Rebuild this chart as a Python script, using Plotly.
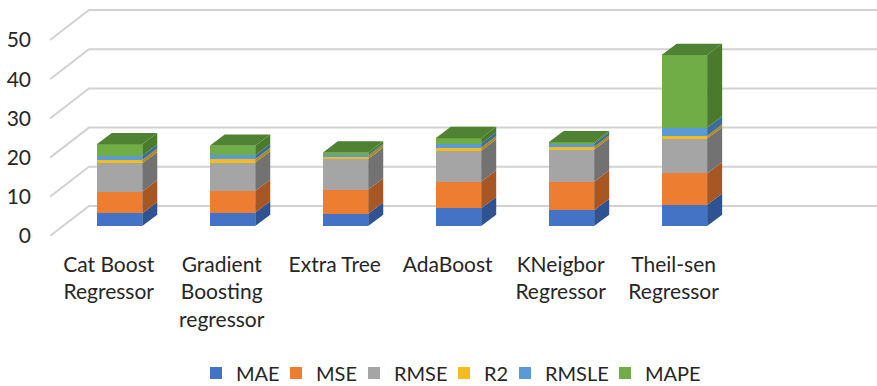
import plotly.graph_objects as go

categories = ["Cat Boost<br>Regressor", "Gradient<br>Boosting<br>regressor", "Extra Tree",
              "AdaBoost", "KNeigbor<br>Regressor", "Theil-sen<br>Regressor"]
series_names = ["MAE", "MSE", "RMSE", "R2", "RMSLE", "MAPE"]
mae = [3.2, 3.4, 3.1, 4.5, 4.0, 5.4]
mse = [5.6, 5.5, 6.2, 6.8, 7.3, 8.0]
rmse = [7.2, 7.3, 7.8, 7.9, 8.2, 8.9]
r2 = [0.85, 0.85, 0.7, 0.8, 0.7, 0.7]
rmsle = [1.1, 1.0, 0.3, 1.0, 0.8, 2.1]
mape = [2.9, 2.4, 0.6, 1.4, 0.35, 18.5]
y_ticks = [0, 10, 20, 30, 40, 50]

front = ["#4472C4", "#ED7D31", "#A5A5A5", "#F2BC1F", "#5B9BD5", "#70AD47"]
side = ["#2F5290", "#A65723", "#727272", "#B08A14", "#3C6C99", "#4A7A2C"]
top_colour = "#4F8232"
series = [mae, mse, rmse, r2, rmsle, mape]
legend_text_left = [234, 314, 392, 482, 543, 643]   # page pixels where each legend label starts

# Chart geometry: pseudo-3D projection, expressed in axis units
W, H = 877, 386
L, T, B = 50, 6, 150
plot_h = H - T - B
plot_w = W - L
X_MIN, X_MAX = -0.52, 6.80
Y_MAX = 58.67
WALL_DX, WALL_DY = 0.345, 7.65     # floor depth
BAR_SHIFT_X, BAR_SHIFT_Y = 0.095, 2.55   # bars stand partway into the floor
BAR_W = 0.403
DEPTH_X, DEPTH_Y = 0.133, 2.9      # bar depth

fig = go.Figure()

# Gridlines: from the front plane to the back wall, then along it
gx, gy = [], []
for v in y_ticks:
    gx += [X_MIN, X_MIN + WALL_DX, X_MAX, None]
    gy += [v, v + WALL_DY, v + WALL_DY, None]
fig.add_trace(go.Scatter(x=gx, y=gy, mode="lines", line=dict(color="#D2D2D2", width=2),
                         showlegend=False, hoverinfo="skip", xaxis="x", yaxis="y"))

xpos = list(range(len(categories)))
cum = [0.0] * len(categories)
for k, (name, vals, fc, sc) in enumerate(zip(series_names, series, front, side)):
    fig.add_trace(go.Bar(x=xpos, y=vals, name=name, width=BAR_W, marker=dict(color=fc, line=dict(width=0)),
                         xaxis="x2", yaxis="y2", legend="legend" if k == 0 else f"legend{k + 1}"))
    sx, sy = [], []
    for i, v in enumerate(vals):
        r = i + BAR_W / 2
        sx += [r, r + DEPTH_X, r + DEPTH_X, r, r, None]
        sy += [cum[i], cum[i] + DEPTH_Y, cum[i] + v + DEPTH_Y, cum[i] + v, cum[i], None]
    fig.add_trace(go.Scatter(x=sx, y=sy, mode="lines", line=dict(width=0), fill="toself", fillcolor=sc,
                             showlegend=False, hoverinfo="skip", xaxis="x2", yaxis="y2"))
    cum = [c + v for c, v in zip(cum, vals)]

tx, ty = [], []
for i, c in enumerate(cum):
    l, r = i - BAR_W / 2, i + BAR_W / 2
    tx += [l, r, r + DEPTH_X, l + DEPTH_X, l, None]
    ty += [c, c, c + DEPTH_Y, c + DEPTH_Y, c, None]
fig.add_trace(go.Scatter(x=tx, y=ty, mode="lines", line=dict(width=0), fill="toself", fillcolor=top_colour,
                         showlegend=False, hoverinfo="skip", xaxis="x2", yaxis="y2"))

font = dict(family="Lato, Carlito, sans-serif", size=21, color="#262626")
legend_font = dict(family=font["family"], size=20, color="#262626")
legends = {}
for k, left in enumerate(legend_text_left):
    key = "legend" if k == 0 else f"legend{k + 1}"
    legends[key] = dict(orientation="h", xanchor="left", x=(left - 38 - L) / plot_w,
                        yanchor="middle", y=(T + plot_h - 373) / plot_h,
                        font=legend_font, bgcolor="rgba(0,0,0,0)")

fig.update_layout(
    width=W, height=H, autosize=False,
    margin=dict(l=L, r=0, t=T, b=B, pad=0, autoexpand=False),
    paper_bgcolor="white", plot_bgcolor="white",
    barmode="stack", font=font,
    xaxis=dict(range=[X_MIN, X_MAX], tickmode="array", tickvals=xpos, ticktext=categories,
               showgrid=False, zeroline=False, showline=False, ticks="", tickfont=font,
               ticklabelstandoff=14, tickangle=0),
    yaxis=dict(range=[0, Y_MAX], tickmode="array", tickvals=y_ticks, showgrid=False, zeroline=False,
               showline=False, ticks="", tickfont=font, ticklabelstandoff=18),
    xaxis2=dict(range=[X_MIN - BAR_SHIFT_X, X_MAX - BAR_SHIFT_X], overlaying="x", visible=False),
    yaxis2=dict(range=[-BAR_SHIFT_Y, Y_MAX - BAR_SHIFT_Y], overlaying="y", visible=False),
    **legends,
)
fig.write_html("out.html", config={"displayModeBar": False},
               post_script="document.body.style.margin='0';")
